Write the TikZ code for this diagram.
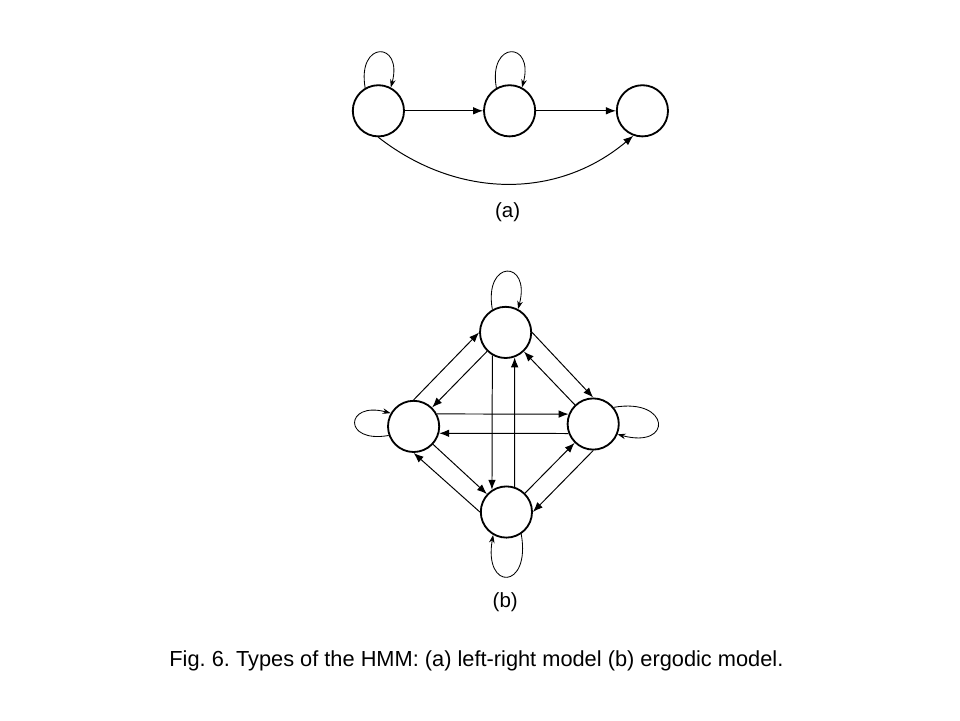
\documentclass[tikz,border=0pt]{standalone}
\usepackage{fontspec}
\setmainfont{Liberation Sans}
\usetikzlibrary{arrows.meta}

\begin{document}
\frenchspacing
\begin{tikzpicture}[
  state/.style={draw, circle, line width=1.3pt, minimum size=1.28cm, inner sep=0pt},
  trans/.style={draw, line width=0.7pt, -{Latex[length=2.5mm,width=1.9mm]}},
  self/.style={draw, line width=0.6pt, -{Stealth[length=2mm,width=1.4mm]}}
]
\fontsize{14.6}{17}\selectfont
\useasboundingbox (0,0) rectangle (24,-18);
% (a) left-right
\node[state] (a1) at (9.46,-2.77) {};
\node[state] (a2) at (12.74,-2.77) {};
\node[state] (a3) at (16.06,-2.77) {};
\path[trans] (a1) -- (a2);
\path[trans] (a2) -- (a3);
\path[trans] (a1.270) to[out=-38,in=-140] (a3.250);
\path[self] (a1.120) to[out=100,in=75,looseness=4.8] (a1.62);
\path[self] (a2.120) to[out=100,in=75,looseness=4.8] (a2.62);
\node[anchor=base] (la) at (12.69,-5.44) {(a)};
% (b) ergodic
\node[state] (b1) at (12.64,-8.31) {};
\node[state] (b2) at (10.34,-10.66) {};
\node[state] (b3) at (14.83,-10.6) {};
\node[state] (b4) at (12.66,-12.8) {};
\path[trans] (b1.240) -- (b4.123);
\path[trans] (b4.72) -- (b1.290);
\path[trans] (b2.28) -- (b3.158);
\path[trans] (b3.201) -- (b2.345);
\path[trans] (b1) -- (b2);
\path[trans] (b2.north) -- (b1.west);
\path[trans] (b1.east) -- (b3.north);
\path[trans] (b3) -- (b1);
\path[trans] (b2) -- (b4);
\path[trans] (b4.west) -- (b2.south);
\path[trans] (b4) -- (b3);
\path[trans] (b3.south) -- (b4.east);
\path[self] (b1.120) to[out=100,in=75,looseness=5.1] (b1.62);
\path[self] (b2.200) to[out=190,in=165,looseness=5.4] (b2.150);
\path[self] (b3.39) to[out=10,in=-15,looseness=5.4] (b3.337);
\path[self] (b4.304) to[out=-80,in=-100,looseness=5.2] (b4.240);
\node[anchor=base] (lb) at (12.63,-15.19) {(b)};
\node[anchor=base, font=\fontsize{15.5}{18}\selectfont] (cap) at (11.91,-16.67) {Fig. 6. Types of the HMM: (a) left-right model (b) ergodic model.};
\end{tikzpicture}
\end{document}
